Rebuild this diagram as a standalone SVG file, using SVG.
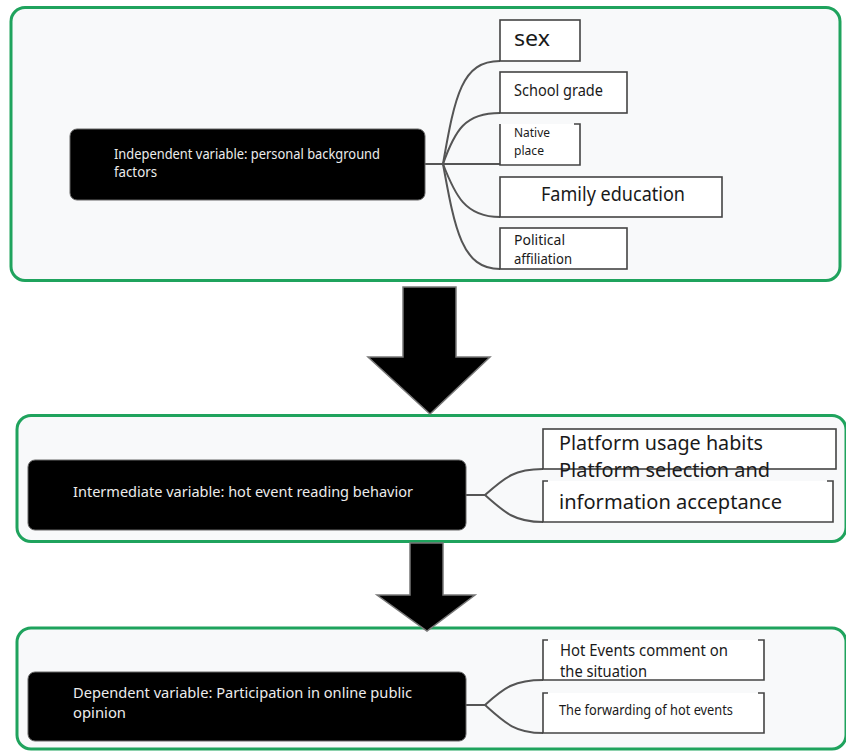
<svg xmlns="http://www.w3.org/2000/svg" width="846" height="751" viewBox="0 0 846 751">
<style>
.panel{fill:#f8f9fa;stroke:#1fa35d;stroke-width:3}
.main{fill:#000;stroke:#666;stroke-width:1}
.mt{fill:#ececec;font-family:"Noto Sans","Open Sans",sans-serif;font-size:14px}
.leaf{fill:#fff;stroke:#444;stroke-width:1.6}
.edge{fill:none;stroke:#444;stroke-width:1.6}
.lt{fill:#1a1a1a;font-family:"Noto Sans","Open Sans",sans-serif}
.conn{fill:none;stroke:#555;stroke-width:2}
.arrow{fill:#000;stroke:#777;stroke-width:1.5;stroke-linejoin:miter}
</style>
<rect width="846" height="751" fill="#fff"/>
<g id="panel1"><rect class="panel" x="11" y="7.5" width="829" height="273" rx="14"/></g>
<g id="panel2"><rect class="panel" x="17" y="415.5" width="829" height="126" rx="14"/></g>
<g id="panel3"><rect class="panel" x="17" y="628" width="829" height="121" rx="14"/></g>

<g id="connectors">
<path class="conn" d="M424,164 H443"/>
<path class="conn" d="M443,164 C455,95 462,61 500,61"/>
<path class="conn" d="M443,164 C455,130 465,113 500,113"/>
<path class="conn" d="M443,164 H500"/>
<path class="conn" d="M443,164 C455,195 465,217 500,217"/>
<path class="conn" d="M443,164 C455,230 462,269 500,269"/>
<path class="conn" d="M466,495 H485"/>
<path class="conn" d="M485,495 C505,477 515,469 543,469"/>
<path class="conn" d="M485,495 C505,513 515,522 543,522"/>
<path class="conn" d="M466,705 H485"/>
<path class="conn" d="M485,705 C505,687 515,680 543,680"/>
<path class="conn" d="M485,705 C505,723 515,733 543,733"/>
</g>

<g id="arrow1"><polygon class="arrow" points="403,287 456,287 456,357 490,357 430,414 368,357 403,357"/></g>
<g id="arrow2"><polygon class="arrow" points="410,543 443,543 443,595 475,595 427,631 377,595 410,595"/></g>

<g id="independent">
<rect class="main" x="70" y="129" width="355" height="71" rx="7"/>
<text class="mt" x="114" y="159" textLength="266" lengthAdjust="spacingAndGlyphs">Independent variable: personal background</text>
<text class="mt" x="114" y="177" textLength="43" lengthAdjust="spacingAndGlyphs">factors</text>
</g>
<g id="sex">
<rect class="leaf" x="500" y="20" width="80" height="41"/>
<text class="lt" x="514" y="46" font-size="22" textLength="36" lengthAdjust="spacingAndGlyphs">sex</text>
</g>
<g id="school-grade">
<rect class="leaf" x="500" y="72" width="127" height="41"/>
<text class="lt" x="514" y="96" font-size="16" textLength="89" lengthAdjust="spacingAndGlyphs">School grade</text>
</g>
<g id="native-place">
<rect x="500" y="124" width="80" height="41" fill="#fff"/>
<path class="edge" d="M500,124 V165 H580 V124 H574"/>
<text class="lt" x="514" y="137" font-size="12.5" textLength="36" lengthAdjust="spacingAndGlyphs">Native</text>
<text class="lt" x="514" y="155" font-size="12.5" textLength="30" lengthAdjust="spacingAndGlyphs">place</text>
</g>
<g id="family-education">
<rect class="leaf" x="500" y="177" width="222" height="40"/>
<text class="lt" x="541" y="201" font-size="19" textLength="144" lengthAdjust="spacingAndGlyphs">Family education</text>
</g>
<g id="political-affiliation">
<rect class="leaf" x="500" y="228" width="127" height="41"/>
<text class="lt" x="514" y="245" font-size="13.5" textLength="51" lengthAdjust="spacingAndGlyphs">Political</text>
<text class="lt" x="514" y="264" font-size="13.5" textLength="58" lengthAdjust="spacingAndGlyphs">affiliation</text>
</g>

<g id="intermediate">
<rect class="main" x="28" y="460" width="438" height="70" rx="7"/>
<text class="mt" x="73" y="497" textLength="340" lengthAdjust="spacingAndGlyphs">Intermediate variable: hot event reading behavior</text>
</g>
<g id="platform-usage">
<rect class="leaf" x="543" y="429" width="293" height="40"/>
<text class="lt" x="559" y="450" font-size="20.5" textLength="204" lengthAdjust="spacingAndGlyphs">Platform usage habits</text>
</g>
<g id="platform-selection">
<rect x="543" y="481" width="290" height="41" fill="#fff"/>
<path class="edge" d="M548,481 H543 V522 H833 V481 H827"/>
<text class="lt" x="559" y="477" font-size="20.5" textLength="211" lengthAdjust="spacingAndGlyphs">Platform selection and</text>
<text class="lt" x="559" y="509" font-size="20.5" textLength="223" lengthAdjust="spacingAndGlyphs">information acceptance</text>
</g>

<g id="dependent">
<rect class="main" x="28" y="672" width="438" height="69" rx="7"/>
<text class="mt" x="73" y="698" textLength="339" lengthAdjust="spacingAndGlyphs">Dependent variable: Participation in online public</text>
<text class="mt" x="73" y="718" textLength="53" lengthAdjust="spacingAndGlyphs">opinion</text>
</g>
<g id="hot-comment">
<rect x="543" y="640" width="221" height="40" fill="#fff"/>
<path class="edge" d="M548,640 H543 V680 H764 V640 H758"/>
<text class="lt" x="560" y="656" font-size="15.5" textLength="168" lengthAdjust="spacingAndGlyphs">Hot Events comment on</text>
<text class="lt" x="560" y="677" font-size="15.5" textLength="87" lengthAdjust="spacingAndGlyphs">the situation</text>
</g>
<g id="forwarding">
<rect x="543" y="693" width="221" height="40" fill="#fff"/>
<path class="edge" d="M548,693 H543 V733 H764 V693 H758"/>
<text class="lt" x="559" y="715" font-size="13.5" textLength="174" lengthAdjust="spacingAndGlyphs">The forwarding of hot events</text>
</g>
</svg>
